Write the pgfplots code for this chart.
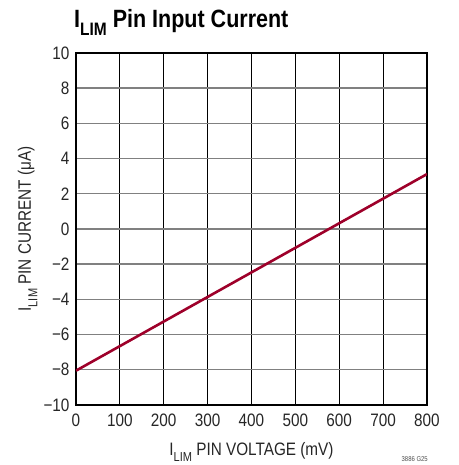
\documentclass[border=0pt]{standalone}
\usepackage{fontspec}
\setmainfont{Liberation Sans}[FakeStretch=0.85]
\newfontfamily\titlefont{Liberation Sans}[FakeStretch=0.86]
\usepackage{pgfplots}
\pgfplotsset{compat=1.18}
\definecolor{linered}{RGB}{158,0,42}
\begin{document}
\begin{tikzpicture}[x=1pt,y=1pt]
\useasboundingbox (-76,-60) rectangle (382,405);
\begin{axis}[at={(0,0)}, anchor=south west, scale only axis,
  width=351pt, height=352pt,
  xmin=0, xmax=800, ymin=-10, ymax=10,
  xtick={0,100,...,800}, ytick={-10,-8,...,10},
  xticklabels={0,100,200,300,400,500,600,700,800},
  yticklabels={−10,−8,−6,−4,−2,0,2,4,6,8,10},
  major tick length=0pt,
  grid=major,
  major x grid style={black, line width=1.2pt},
  major y grid style={black!50, line width=1.4pt},
  axis line style={black, line width=1.8pt},
  ticklabel style={font=\fontsize{18}{18}\selectfont, text=black!85},
  yticklabel style={xshift=-3pt},
  xticklabel style={yshift=-5pt},
]
\addplot[linered, line width=2.6pt] coordinates {(0,-8.05) (800,3.12)};
\end{axis}
\node[anchor=base, font=\fontsize{18}{18}\selectfont, text=black!85] at (175.5,-50) {I\raisebox{-0.35em}{\fontsize{13}{13}\selectfont LIM} PIN VOLTAGE (mV)};
\node[anchor=base, rotate=90, font=\fontsize{18}{18}\selectfont, text=black!85] at (-45,176) {I\raisebox{-0.35em}{\fontsize{13}{13}\selectfont LIM} PIN CURRENT (μA)};
\node[anchor=base west, inner sep=0pt, font=\titlefont\bfseries\fontsize{25}{25}\selectfont] at (-2,377) {I\raisebox{-0.3em}{\fontsize{18}{18}\selectfont LIM} Pin Input Current};
\node[anchor=north east, inner sep=0pt, font=\fontsize{7}{7}\selectfont, text=black!70] at (352,-51) {3886 G25};
\end{tikzpicture}
\end{document}
